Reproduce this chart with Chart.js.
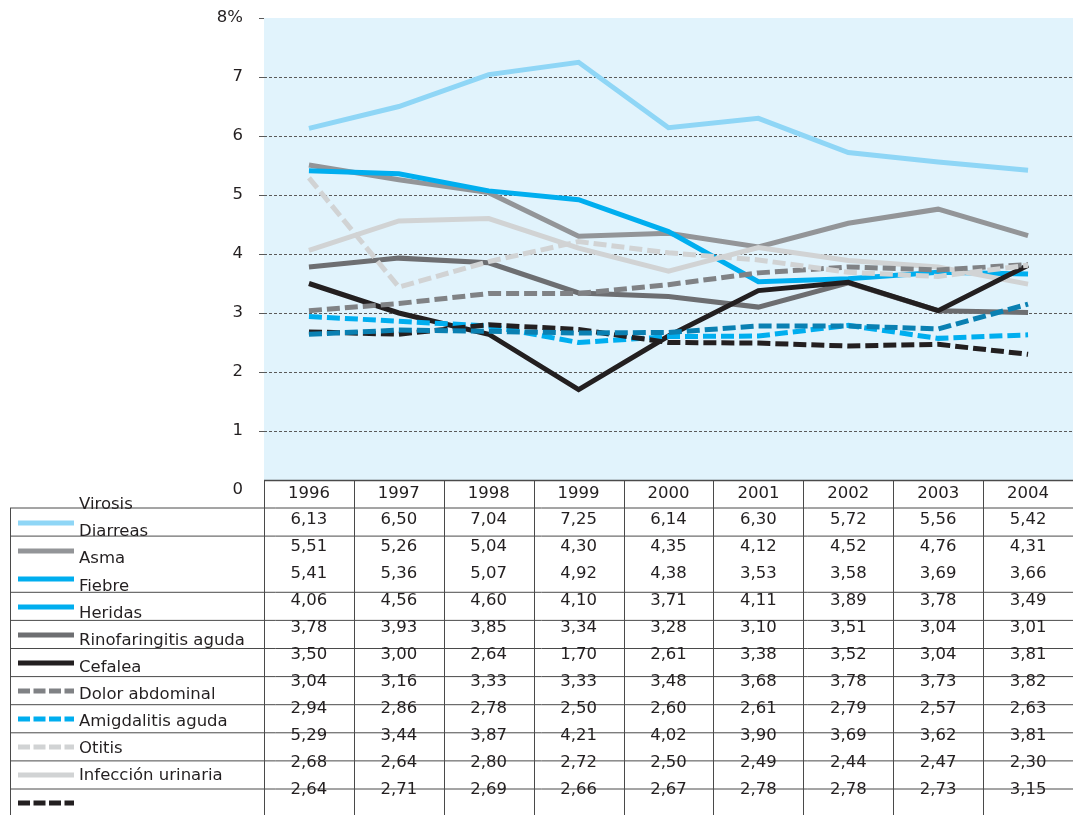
<!DOCTYPE html>
<html lang="es">
<head>
<meta charset="utf-8">
<title>Motivos de consulta 1996–2004</title>
<script src="https://cdn.jsdelivr.net/npm/chart.js@4.4.1/dist/chart.umd.min.js"></script>
<style>
  html, body { margin: 0; padding: 0; background: #fff; }
  #wrap { width: 1073px; height: 815px; position: relative; }
</style>
</head>
<body>
<div id="wrap"><canvas id="chart" width="1073" height="815"></canvas></div>
<script>
// Years on the category axis and in the table header
const years = ['1996', '1997', '1998', '1999', '2000', '2001', '2002', '2003', '2004'];

// Percentages per year, in table row order
const diarreas          = [6.13, 6.50, 7.04, 7.25, 6.14, 6.30, 5.72, 5.56, 5.42];
const asma              = [5.51, 5.26, 5.04, 4.30, 4.35, 4.12, 4.52, 4.76, 4.31];
const fiebre            = [5.41, 5.36, 5.07, 4.92, 4.38, 3.53, 3.58, 3.69, 3.66];
const heridas           = [4.06, 4.56, 4.60, 4.10, 3.71, 4.11, 3.89, 3.78, 3.49];
const rinofaringitis    = [3.78, 3.93, 3.85, 3.34, 3.28, 3.10, 3.51, 3.04, 3.01];
const cefalea           = [3.50, 3.00, 2.64, 1.70, 2.61, 3.38, 3.52, 3.04, 3.81];
const dolorAbdominal    = [3.04, 3.16, 3.33, 3.33, 3.48, 3.68, 3.78, 3.73, 3.82];
const amigdalitis       = [2.94, 2.86, 2.78, 2.50, 2.60, 2.61, 2.79, 2.57, 2.63];
const otitis            = [5.29, 3.44, 3.87, 4.21, 4.02, 3.90, 3.69, 3.62, 3.81];
const infeccionUrinaria = [2.68, 2.64, 2.80, 2.72, 2.50, 2.49, 2.44, 2.47, 2.30];
const otros             = [2.64, 2.71, 2.69, 2.66, 2.67, 2.78, 2.78, 2.73, 3.15];

// Text lines of the key column
const keyText = ['Virosis', 'Diarreas', 'Asma', 'Fiebre', 'Heridas', 'Rinofaringitis aguda',
                 'Cefalea', 'Dolor abdominal', 'Amigdalitis aguda', 'Otitis', 'Infección urinaria'];

// Y axis range
const yMin = 0, yMax = 8, yStep = 1;

// Palette
const COL = {
  lightBlue: '#8fd6f6',
  gray:      '#939598',
  blue:      '#00aeef',
  lightGray: '#d1d3d4',
  darkGray:  '#6d6e71',
  black:     '#231f20',
  midGray:   '#808285',
  deepBlue:  '#0a80b2',
  plotBg:    '#e1f3fc',
  ink:       '#231f20',
  rule:      '#4a4a4a'
};
const FONT = '"DejaVu Sans", "Noto Sans", sans-serif';
const FONT_SIZE = 16.5;

// Plotted series: values with their line style
const series = [
  { label: 'Virosis Diarreas',    data: diarreas,          color: COL.lightBlue, dashed: false },
  { label: 'Asma',                data: asma,              color: COL.gray,      dashed: false },
  { label: 'Fiebre',              data: fiebre,            color: COL.blue,      dashed: false },
  { label: 'Heridas',             data: heridas,           color: COL.lightGray, dashed: false },
  { label: 'Rinofaringitis aguda',data: rinofaringitis,    color: COL.darkGray,  dashed: false },
  { label: 'Cefalea',             data: cefalea,           color: COL.black,     dashed: false },
  { label: 'Dolor abdominal',     data: dolorAbdominal,    color: COL.midGray,   dashed: true  },
  { label: 'Amigdalitis aguda',   data: amigdalitis,       color: COL.blue,      dashed: true  },
  { label: 'Otitis',              data: otitis,            color: COL.lightGray, dashed: true  },
  { label: 'Infección urinaria',  data: infeccionUrinaria, color: COL.black,     dashed: true  },
  { label: 'Otros',               data: otros,             color: COL.deepBlue,  dashed: true  }
];

// Swatches of the key column, top to bottom
const keySwatches = [
  { color: COL.lightBlue, dashed: false },
  { color: COL.gray,      dashed: false },
  { color: COL.blue,      dashed: false },
  { color: COL.blue,      dashed: false },
  { color: COL.darkGray,  dashed: false },
  { color: COL.black,     dashed: false },
  { color: COL.midGray,   dashed: true  },
  { color: COL.blue,      dashed: true  },
  { color: COL.lightGray, dashed: true  },
  { color: COL.lightGray, dashed: false },
  { color: COL.black,     dashed: true  }
];
// Key rows that share a cell with the row above (no rule between them)
const keyJoined = [false, false, true, false, false, false, false, false, false, false, false];

const fmt = v => v.toFixed(2).replace('.', ',');

// Light blue plot background
const plotBackground = {
  id: 'plotBackground',
  beforeDraw(chart) {
    const { ctx, chartArea: a } = chart;
    ctx.save();
    ctx.fillStyle = COL.plotBg;
    ctx.fillRect(a.left, a.top, a.right - a.left, a.bottom - a.top);
    ctx.restore();
  }
};

// Data table with the key column under the plot
const dataTable = {
  id: 'dataTable',
  afterDraw(chart) {
    const ctx = chart.ctx;
    const xs = chart.scales.x;
    const n = years.length;
    const colW = (xs.right - xs.left) / n;
    const tableLeft = xs.left;
    const tableRight = chart.width;
    const keyLeft = 10;
    const headTop = 480;
    const bodyTop = 508;
    const ruleStep = 28.1;
    const bottom = chart.height;

    ctx.save();
    // white cells
    ctx.fillStyle = '#ffffff';
    ctx.fillRect(tableLeft, headTop, tableRight - tableLeft, bottom - headTop);
    ctx.fillRect(keyLeft, bodyTop, tableLeft - keyLeft, bottom - bodyTop);

    // rules
    ctx.strokeStyle = COL.rule;
    ctx.lineWidth = 1;
    ctx.setLineDash([]);
    ctx.beginPath();
    keySwatches.forEach((s, k) => {
      if (keyJoined[k]) return;
      const y = bodyTop + k * ruleStep;
      ctx.moveTo(keyLeft, y);
      ctx.lineTo(tableRight, y);
    });
    ctx.moveTo(keyLeft + 0.5, bodyTop);
    ctx.lineTo(keyLeft + 0.5, bottom);
    for (let i = 0; i < n; i++) {
      const x = Math.round(tableLeft + i * colW) + 0.5;
      ctx.moveTo(x, headTop);
      ctx.lineTo(x, bottom);
    }
    ctx.stroke();
    ctx.lineWidth = 1.6;
    ctx.beginPath();
    ctx.moveTo(tableLeft, headTop + 0.5);
    ctx.lineTo(tableRight, headTop + 0.5);
    ctx.stroke();

    // header and values
    ctx.fillStyle = COL.ink;
    ctx.font = FONT_SIZE + 'px ' + FONT;
    ctx.textAlign = 'center';
    ctx.textBaseline = 'middle';
    years.forEach((yr, j) => {
      ctx.fillText(yr, xs.getPixelForValue(j), 494);
    });
    series.forEach((s, i) => {
      const y = 520 + i * 27;
      s.data.forEach((v, j) => ctx.fillText(fmt(v), xs.getPixelForValue(j), y));
    });

    // key swatches
    keySwatches.forEach((s, k) => {
      const y = 523 + k * 28;
      ctx.strokeStyle = s.color;
      ctx.lineWidth = 5;
      ctx.setLineDash(s.dashed ? [12, 3.5] : []);
      ctx.beginPath();
      ctx.moveTo(18, y);
      ctx.lineTo(74, y);
      ctx.stroke();
    });
    ctx.setLineDash([]);

    // key text
    ctx.textAlign = 'left';
    ctx.fillStyle = COL.ink;
    keyText.forEach((t, j) => ctx.fillText(t, 79, 505 + j * 27.1));
    ctx.restore();
  }
};

new Chart(document.getElementById('chart'), {
  type: 'line',
  data: {
    labels: years,
    datasets: series.map((s, i) => ({
      label: s.label,
      data: s.data,
      borderColor: s.color,
      backgroundColor: s.color,
      borderWidth: 5,
      borderDash: s.dashed ? [13, 5] : [],
      borderCapStyle: 'butt',
      borderJoinStyle: 'miter',
      pointRadius: 0,
      pointHoverRadius: 0,
      tension: 0,
      fill: false,
      order: series.length - i
    }))
  },
  options: {
    responsive: false,
    animation: false,
    devicePixelRatio: 1,
    layout: { padding: { top: 18, bottom: 325, left: 0, right: 0 } },
    plugins: {
      legend: { display: false },
      tooltip: { enabled: false }
    },
    scales: {
      x: {
        type: 'category',
        offset: true,
        display: false
      },
      y: {
        min: yMin,
        max: yMax,
        afterFit(scale) {
          scale.width = 264;
          scale.paddingTop = 0;
          scale.paddingBottom = 0;
        },
        ticks: {
          stepSize: yStep,
          padding: 16,
          color: COL.ink,
          font: { family: FONT, size: FONT_SIZE },
          callback: v => (v === yMax ? v + '%' : String(v))
        },
        grid: {
          color: c => (c.tick && (c.tick.value === yMax || c.tick.value === yMin)) ? 'rgba(0,0,0,0)' : '#5a5a5a',
          tickColor: c => (c.tick && c.tick.value === yMin) ? 'rgba(0,0,0,0)' : '#5a5a5a',
          tickLength: 5,
          lineWidth: 1
        },
        border: { display: false, dash: [3, 2] }
      }
    }
  },
  plugins: [plotBackground, dataTable]
});
</script>
</body>
</html>
